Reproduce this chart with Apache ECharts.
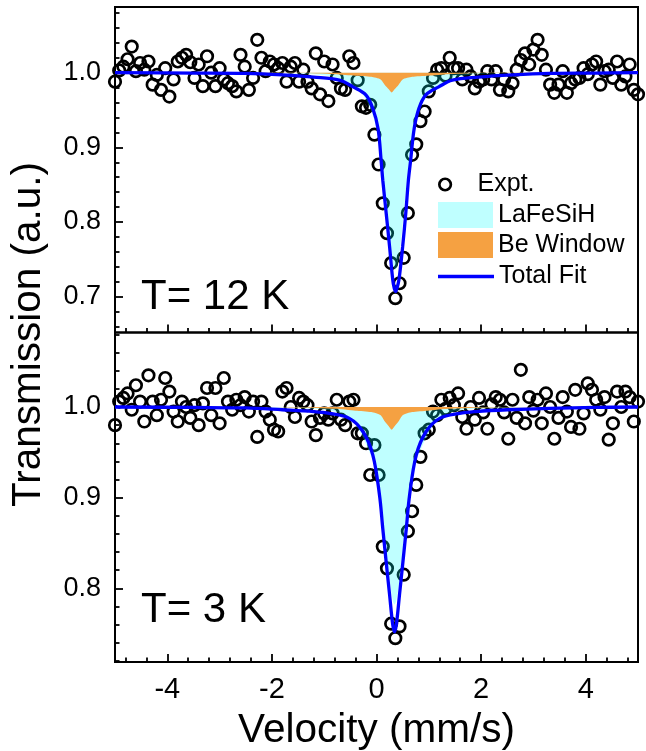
<!DOCTYPE html>
<html>
<head>
<meta charset="utf-8">
<title>Mössbauer spectra of LaFeSiH</title>
<script src="https://cdn.jsdelivr.net/npm/echarts@6/dist/echarts.min.js"></script>
<style>
  html, body { margin: 0; padding: 0; background: #fff; }
  #chart { width: 646px; height: 751px; }
</style>
</head>
<body>
<div id="chart"></div>
<script>
// Channel velocities (mm/s), shared by both spectra
const velocity = [
  -5.00,-4.92,-4.84,-4.76,-4.68,-4.60,-4.52,-4.44,-4.36,-4.28,
  -4.20,-4.12,-4.04,-3.96,-3.88,-3.80,-3.72,-3.64,-3.56,-3.48,
  -3.40,-3.32,-3.24,-3.16,-3.08,-3.00,-2.92,-2.84,-2.76,-2.68,
  -2.60,-2.52,-2.44,-2.36,-2.28,-2.20,-2.12,-2.04,-1.96,-1.88,
  -1.80,-1.72,-1.64,-1.56,-1.48,-1.40,-1.32,-1.24,-1.16,-1.08,
  -1.00,-0.92,-0.84,-0.76,-0.68,-0.60,-0.52,-0.44,-0.36,-0.28,
  -0.20,-0.12,-0.04,0.04,0.12,0.20,0.28,0.36,0.44,0.52,
  0.60,0.68,0.76,0.84,0.92,1.00,1.08,1.16,1.24,1.32,
  1.40,1.48,1.56,1.64,1.72,1.80,1.88,1.96,2.04,2.12,
  2.20,2.28,2.36,2.44,2.52,2.60,2.68,2.76,2.84,2.92,
  3.00,3.08,3.16,3.24,3.32,3.40,3.48,3.56,3.64,3.72,
  3.80,3.88,3.96,4.04,4.12,4.20,4.28,4.36,4.44,4.52,
  4.60,4.68,4.76,4.84,4.92,5.00
];

// Measured transmission at T = 12 K
const expt12K = [
  0.988,1.003,1.008,1.018,1.035,1.002,1.013,1.004,1.015,0.984,
  0.997,0.977,1.006,0.968,0.991,1.015,1.020,1.024,1.014,0.993,
  1.011,0.982,1.022,1.000,0.982,1.006,0.991,0.986,0.982,0.975,
  1.024,1.008,0.977,0.993,1.044,1.020,1.002,1.015,1.011,1.006,
  1.013,0.988,1.008,1.013,0.988,1.004,0.988,0.979,1.026,0.971,
  1.015,0.962,1.011,0.993,0.979,0.977,1.022,1.013,0.990,0.955,
  0.953,0.957,0.917,0.877,0.825,0.785,0.745,0.698,0.718,0.752,
  0.812,0.890,0.904,0.935,0.948,0.975,0.993,1.004,1.006,0.996,
  1.020,1.006,1.006,0.991,1.004,0.995,0.979,0.988,0.991,1.002,
  0.991,1.002,0.977,0.991,0.975,0.986,1.004,1.017,1.026,1.011,
  1.031,1.044,1.024,1.004,0.984,0.973,0.984,1.002,0.973,0.986,
  0.991,0.993,1.006,0.998,1.011,1.015,0.984,1.002,1.004,0.993,
  1.015,0.984,0.995,1.011,0.977,0.971
];

// Measured transmission at T = 3 K
const expt3K = [
  0.980,1.006,1.010,1.015,0.997,1.024,1.006,0.984,1.035,1.006,
  0.991,1.008,1.032,1.017,0.995,0.984,1.006,1.000,0.988,1.002,
  0.980,1.004,1.021,0.991,1.021,0.982,1.032,1.006,0.997,1.008,
  1.002,1.011,0.995,1.006,0.967,1.006,0.995,0.986,0.975,0.973,
  1.017,1.021,1.000,0.989,1.010,1.006,1.002,0.984,0.969,0.988,
  0.993,0.986,0.993,1.008,0.986,0.980,1.006,1.008,0.971,0.971,
  0.960,0.925,0.958,0.925,0.846,0.822,0.761,0.745,0.758,0.815,
  0.863,0.885,0.914,0.945,0.971,0.975,0.995,0.991,1.008,0.998,
  1.010,1.002,1.015,0.989,0.976,1.000,0.986,1.010,0.994,0.976,
  1.003,1.011,1.008,0.994,0.965,1.008,0.988,1.041,0.982,1.011,
  0.996,1.008,0.982,1.015,1.000,0.965,0.988,1.011,0.995,0.978,
  1.019,0.976,0.993,1.026,1.019,1.008,0.997,1.011,0.964,0.982,
  1.017,1.000,1.017,1.011,0.984,1.006
];

// Total fit, 12 K
const fitVel12K = [-5,-3.5,-2.5,-1.8,-1.2,-0.71,-0.45,-0.2,-0.07,0.03,0.09,0.12,0.185,0.25,0.31,0.34,0.365,0.39,0.43,0.50,0.56,0.61,0.65,0.72,0.81,0.94,1.19,1.45,1.95,2.6,3.3,4.2,5];
const totalFit12K = [1.0,0.9995,0.999,0.997,0.994,0.990,0.981,0.970,0.952,0.925,0.881,0.856,0.812,0.767,0.723,0.711,0.707,0.711,0.723,0.767,0.812,0.856,0.881,0.925,0.952,0.970,0.981,0.990,0.994,0.997,0.999,0.9995,1.0];

// Total fit, 3 K
const fitVel3K = [-5,-3.5,-2.5,-1.8,-1.2,-0.9,-0.52,-0.26,-0.07,0.057,0.12,0.185,0.25,0.31,0.345,0.38,0.44,0.505,0.57,0.633,0.76,0.95,1.21,1.59,1.9,2.5,3.3,4.2,5];
const totalFit3K = [1.0,0.9995,0.999,0.997,0.995,0.993,0.9875,0.973,0.947,0.903,0.866,0.829,0.793,0.760,0.752,0.760,0.793,0.829,0.866,0.903,0.947,0.973,0.9875,0.993,0.995,0.997,0.9986,0.9995,1.0];

// LaFeSiH sub-spectrum
const laVel12K = [-5,-2,-1.2,-0.8,-0.5,-0.3,-0.12,0.0,0.08,0.14,0.2,0.26,0.32,0.36,0.40,0.46,0.52,0.58,0.64,0.72,0.84,1.02,1.22,1.52,1.9,2.7,5];
const lafesih12K = [1.0,0.9995,0.998,0.994,0.985,0.974,0.952,0.925,0.89,0.855,0.812,0.77,0.742,0.736,0.742,0.77,0.812,0.855,0.89,0.925,0.952,0.974,0.985,0.994,0.998,0.9995,1.0];
const laVel3K = [-5,-2,-1.2,-0.8,-0.5,-0.35,-0.17,0.0,0.07,0.14,0.2,0.26,0.31,0.345,0.38,0.43,0.49,0.55,0.62,0.69,0.86,1.04,1.19,1.49,1.89,2.7,5];
const lafesih3K = [1.0,0.9995,0.998,0.995,0.987,0.976,0.955,0.93,0.905,0.87,0.835,0.805,0.787,0.782,0.787,0.805,0.835,0.87,0.905,0.93,0.955,0.976,0.987,0.995,0.998,0.9995,1.0];

// Be window sub-spectrum
const beVel = [-5,-1.5,-0.8,-0.4,-0.1,0.08,0.16,0.23,0.29,0.35,0.42,0.50,0.68,0.98,1.38,2.1,5];
const beWindow12K = [1.0,0.9995,0.998,0.996,0.9945,0.991,0.9835,0.978,0.9735,0.978,0.9835,0.991,0.9945,0.996,0.998,0.9995,1.0];
const beWindow3K = [1.0,0.9995,0.998,0.996,0.9945,0.991,0.984,0.979,0.975,0.979,0.984,0.991,0.9945,0.996,0.998,0.9995,1.0];

// Tick positions
const majorX = [-4,-2,0,2,4];
const minorX = [-4.8,-4.4,-3.6,-3.2,-2.8,-2.4,-1.6,-1.2,-0.8,-0.4,0.4,0.8,1.2,1.6,2.4,2.8,3.2,3.6,4.4,4.8];
const majorY12K = [0.7,0.8,0.9,1.0];
const minorY12K = [0.66,0.68,0.72,0.74,0.76,0.78,0.82,0.84,0.86,0.88,0.92,0.94,0.96,0.98,1.02,1.04,1.06,1.08];
const majorY3K = [0.8,0.9,1.0];
const minorY3K = [0.72,0.74,0.76,0.78,0.82,0.84,0.86,0.88,0.92,0.94,0.96,0.98,1.02,1.04,1.06,1.08];

const FONT = '"Liberation Sans", Arial, Helvetica, sans-serif';
const CYAN = 'rgba(0,255,255,0.25)';
const ORANGE = '#f5a142';
const BLUE = '#0000ff';
const tickStyle = { color: '#000', width: 1.8 };

const zip = (xs, ys) => xs.map((x, i) => [x, ys[i]]);

function xAxisPair(grid, withLabels) {
  return [
    {
      type: 'value', gridIndex: grid, min: -5, max: 5, position: 'bottom',
      axisLine: { show: false, onZero: false }, splitLine: { show: false },
      axisTick: { show: true, inside: true, length: 8, customValues: majorX, lineStyle: tickStyle },
      axisLabel: withLabels
        ? { show: true, customValues: majorX, margin: 13, fontSize: 29, color: '#000', fontFamily: FONT }
        : { show: false },
      name: withLabels ? 'Velocity (mm/s)' : '',
      nameLocation: 'middle', nameGap: 48,
      nameTextStyle: { fontSize: 40.5, color: '#000', fontFamily: FONT }
    },
    {
      type: 'value', gridIndex: grid, min: -5, max: 5, position: 'bottom',
      axisLine: { show: false, onZero: false }, splitLine: { show: false },
      axisTick: { show: true, inside: true, length: 4.5, customValues: minorX, lineStyle: tickStyle },
      axisLabel: { show: false }
    }
  ];
}

function yAxisPair(grid, min, max, major, minor) {
  return [
    {
      type: 'value', gridIndex: grid, min: min, max: max, position: 'left',
      axisLine: { show: false, onZero: false }, splitLine: { show: false },
      axisTick: { show: true, inside: true, length: 8, customValues: major, lineStyle: tickStyle },
      axisLabel: {
        show: true, customValues: major, formatter: v => Number(v).toFixed(1),
        margin: 14, fontSize: 27, color: '#000', fontFamily: FONT
      }
    },
    {
      type: 'value', gridIndex: grid, min: min, max: max, position: 'left',
      axisLine: { show: false, onZero: false }, splitLine: { show: false },
      axisTick: { show: true, inside: true, length: 4.5, customValues: minor, lineStyle: tickStyle },
      axisLabel: { show: false }
    }
  ];
}

function panelSeries(grid, expt, fitVel, fit, laVel, la, be) {
  const ax = { xAxisIndex: grid * 2, yAxisIndex: grid * 2 };
  return [
    Object.assign({
      type: 'scatter', name: 'Expt.', data: zip(velocity, expt),
      symbol: 'circle', symbolSize: 11.5,
      itemStyle: { color: 'rgba(0,0,0,0)', borderColor: '#000', borderWidth: 2.7, opacity: 1 },
      z: 2
    }, ax),
    Object.assign({
      type: 'line', name: 'LaFeSiH', data: zip(laVel, la),
      symbol: 'none', showSymbol: false, smooth: 0.35,
      lineStyle: { width: 0, opacity: 0 },
      itemStyle: { color: CYAN },
      areaStyle: { color: '#00ffff', opacity: 0.25, origin: 1 },
      z: 3
    }, ax),
    Object.assign({
      type: 'line', name: 'Be Window', data: zip(beVel, be),
      symbol: 'none', showSymbol: false, smooth: 0.2,
      lineStyle: { width: 0, opacity: 0 },
      itemStyle: { color: ORANGE },
      areaStyle: { color: ORANGE, opacity: 1, origin: 1 },
      z: 4
    }, ax),
    Object.assign({
      type: 'line', name: 'Total Fit', data: zip(fitVel, fit),
      symbol: 'none', showSymbol: false, smooth: 0.35,
      lineStyle: { color: BLUE, width: 3.3 },
      itemStyle: { color: BLUE },
      z: 5
    }, ax)
  ];
}

const legendText = { fontSize: 25, color: '#000', fontFamily: FONT };

const option = {
  animation: false,
  backgroundColor: '#fff',
  textStyle: { fontFamily: FONT },
  grid: [
    { left: 115, right: 8, top: 7, height: 325.5, show: true, borderColor: '#000', borderWidth: 2, backgroundColor: 'transparent', outerBoundsMode: 'none' },
    { left: 115, right: 8, top: 332.5, height: 329.5, show: true, borderColor: '#000', borderWidth: 2, backgroundColor: 'transparent', outerBoundsMode: 'none' },
    { left: 115, right: 8, top: 7, height: 655, show: false, outerBoundsMode: 'none' }
  ],
  xAxis: [
    ...xAxisPair(0, false),
    ...xAxisPair(1, true),
    { type: 'value', gridIndex: 2, min: 0, max: 1, show: false }
  ],
  yAxis: [
    ...yAxisPair(0, 0.652, 1.088, majorY12K, minorY12K),
    ...yAxisPair(1, 0.7187, 1.0822, majorY3K, minorY3K),
    {
      type: 'value', gridIndex: 2, min: 0, max: 1,
      axisLine: { show: false }, axisTick: { show: false }, axisLabel: { show: false }, splitLine: { show: false },
      name: 'Transmission (a.u.)', nameLocation: 'middle', nameGap: 66,
      nameTextStyle: { fontSize: 40.5, color: '#000', fontFamily: FONT }
    }
  ],
  legend: [
    {
      data: [{ name: 'Expt.', icon: 'circle', itemStyle: { color: 'rgba(0,0,0,0)', borderColor: '#000', borderWidth: 2.7 } }],
      left: 438, top: 172, padding: 0, itemWidth: 55, itemHeight: 11.5,
      selectedMode: false, textStyle: legendText
    },
    {
      data: [
        { name: 'LaFeSiH', icon: 'rect', itemStyle: { color: CYAN, borderWidth: 0 } },
        { name: 'Be Window', icon: 'rect', itemStyle: { color: ORANGE, borderWidth: 0 } }
      ],
      orient: 'vertical', left: 438, top: 202, padding: 0, itemWidth: 55, itemHeight: 26, itemGap: 4,
      selectedMode: false, textStyle: legendText
    },
    {
      data: [{ name: 'Total Fit', icon: 'rect', itemStyle: { color: BLUE, borderWidth: 0 } }],
      left: 438, top: 264, padding: 0, itemWidth: 56, itemHeight: 3.3,
      selectedMode: false, textStyle: legendText
    }
  ],
  graphic: [
    { type: 'text', x: 141, y: 297, style: { text: 'T= 12 K', fontSize: 42, fontFamily: FONT, fill: '#000', verticalAlign: 'middle' } },
    { type: 'text', x: 141, y: 610, style: { text: 'T= 3 K', fontSize: 42, fontFamily: FONT, fill: '#000', verticalAlign: 'middle' } }
  ],
  series: [
    ...panelSeries(0, expt12K, fitVel12K, totalFit12K, laVel12K, lafesih12K, beWindow12K),
    ...panelSeries(1, expt3K, fitVel3K, totalFit3K, laVel3K, lafesih3K, beWindow3K)
  ]
};

const chart = echarts.init(document.getElementById('chart'), null, { renderer: 'canvas' });
chart.setOption(option);
</script>
</body>
</html>
